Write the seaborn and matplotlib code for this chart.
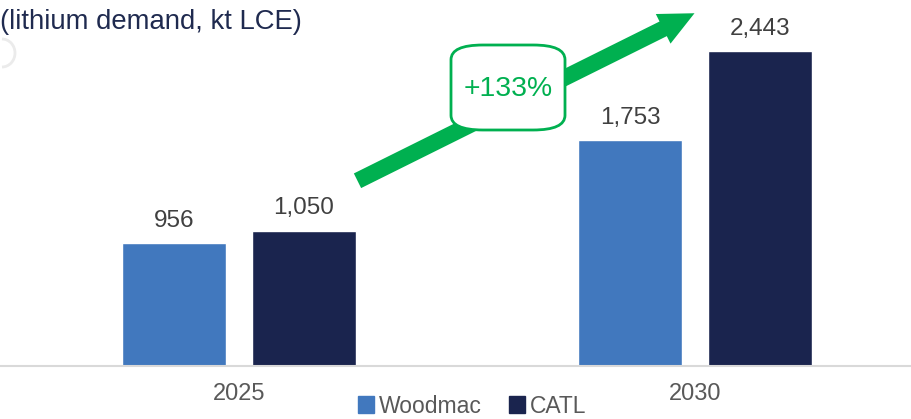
import pandas as pd
import seaborn as sns
import matplotlib.pyplot as plt
from matplotlib.patches import FancyBboxPatch, FancyArrowPatch, Arc

# -----------------------------
# datos
# -----------------------------
years = ["2025", "2030"]
sources = ["Woodmac", "CATL"]
woodmac = [956, 1753]
catl = [1050, 2443]

df = pd.DataFrame({
    "year": years * 2,
    "source": [sources[0]] * 2 + [sources[1]] * 2,
    "demand": woodmac + catl,
})

colores = {"Woodmac": "#4178BE", "CATL": "#1A244E"}
verde = "#00B050"

sns.set_theme(style="white")
plt.rcParams["font.family"] = ["Liberation Sans", "DejaVu Sans"]

fig = plt.figure(figsize=(9.12, 4.19), dpi=100)
ax = fig.add_axes([0, 1 - 366 / 419, 1, 366 / 419])

sns.barplot(data=df, x="year", y="demand", hue="source", palette=colores,
            width=0.57, gap=0.2, ax=ax, legend=False, saturation=1)

for cont in ax.containers:
    ax.bar_label(cont, labels=[f"{v:,.0f}" for v in cont.datavalues],
                 padding=8, fontsize=17.5, color="#404040")

ax.set_xlim(-0.524, 1.476)
ax.set_ylim(0, 2838)
ax.set_xlabel("")
ax.set_ylabel("")
ax.set_yticks([])
ax.tick_params(axis="x", length=0, pad=12, labelsize=17, labelcolor="#595959")
for s in ["top", "left", "right"]:
    ax.spines[s].set_visible(False)
ax.spines["bottom"].set_color("#D9D9D9")
ax.spines["bottom"].set_linewidth(1.5)

# leyenda
handles = [plt.Rectangle((0, 0), 1, 1, color=colores[s]) for s in sources]
fig.legend(handles, sources, loc="center", bbox_to_anchor=(472 / 912, 1 - 406 / 419),
           ncol=2, frameon=False, fontsize=16.5, labelcolor="#595959",
           handlelength=0.7, handleheight=0.7, handletextpad=0.2, columnspacing=1.2)

# titulo
fig.text(0.0, 1 - 22 / 419, "(lithium demand, kt LCE)", fontsize=19.8,
         color="#1F2A4F", ha="left", va="center")

# icono gris cortado
fig.patches.append(Arc((2 / 912, 1 - 53 / 419), 26 / 912, 28 / 419, theta1=-90, theta2=90,
                       transform=fig.transFigure, color="#EBEBEB", lw=2))

# flecha verde
flecha = FancyArrowPatch((355 / 912, 1 - 182 / 419), (697 / 912, 1 - 12 / 419),
                         transform=fig.transFigure,
                         arrowstyle="simple,head_length=0.9,head_width=0.85,tail_width=0.42",
                         mutation_scale=28, color=verde, lw=0)
fig.patches.append(flecha)

caja = FancyBboxPatch((451 / 912, 1 - 130 / 419), 114 / 912, 85 / 419,
                      boxstyle="round,pad=0,rounding_size=0.035",
                      transform=fig.transFigure, fc="white", ec=verde, lw=2)
fig.patches.append(caja)
fig.text(508 / 912, 1 - 89 / 419, "+133%", fontsize=20.4, color=verde,
         ha="center", va="center")

plt.savefig("out.png", dpi=100)
